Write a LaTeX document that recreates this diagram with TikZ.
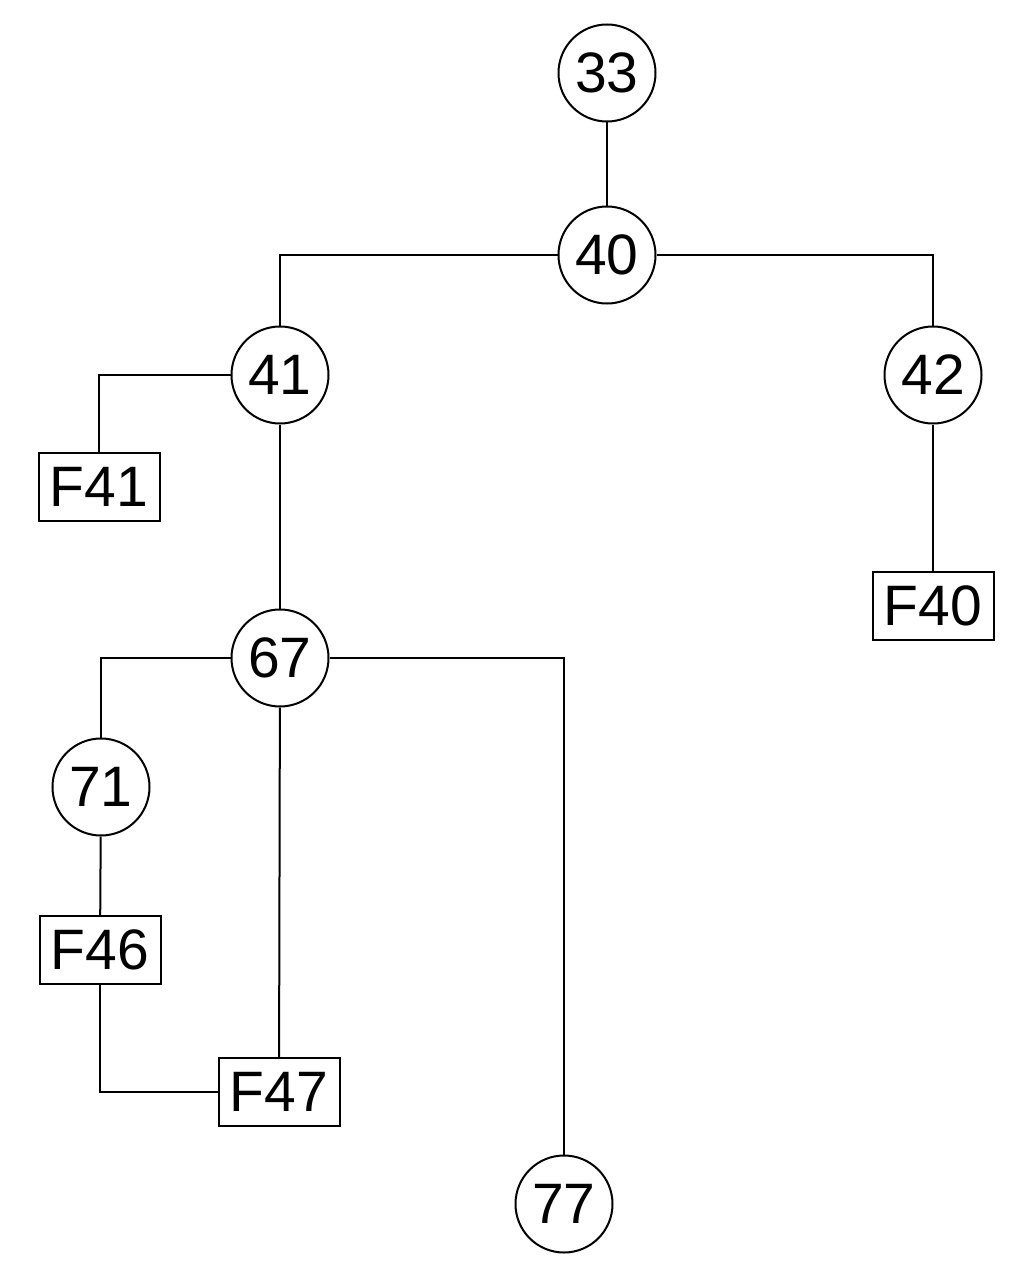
\documentclass[tikz,border=0pt]{standalone}
\usepackage{fontspec}
\setmainfont{Liberation Sans}
\begin{document}
\begin{tikzpicture}[x=1pt,y=-1pt,
  every node/.style={font=\fontsize{57}{60}\selectfont},
  cnode/.style={draw,circle,line width=2pt,minimum size=97pt,inner sep=0pt},
  fbox/.style={draw,rectangle,line width=2pt,minimum width=121pt,minimum height=68pt,inner sep=0pt},
  link/.style={line width=2pt}]
\useasboundingbox (0,0) rectangle (1024,1279);
\node[cnode] (n33) at (607,73) {33};
\node[cnode] (n40) at (607,255) {40};
\node[cnode] (n41) at (280,375) {41};
\node[cnode] (n42) at (933,375) {42};
\node[fbox] (f41) at (99,487) {F41};
\node[fbox] (f40) at (933,606) {F40};
\node[cnode] (n67) at (280,658) {67};
\node[cnode] (n71) at (101,787) {71};
\node[fbox] (f46) at (100,950) {F46};
\node[fbox] (f47) at (279,1092) {F47};
\node[cnode] (n77) at (564,1204) {77};
\draw[link] (n33) -- (n40);
\draw[link] (n40.west) -- (n41 |- n40) -- (n41.north);
\draw[link] (n40.east) -- (n42 |- n40) -- (n42.north);
\draw[link] (n41.west) -- (f41 |- n41) -- (f41.north);
\draw[link] (n41) -- (n67);
\draw[link] (n42) -- (f40);
\draw[link] (n67.west) -- (n71 |- n67) -- (n71.north);
\draw[link] (n67) -- (f47);
\draw[link] (n67.east) -- (n77 |- n67) -- (n77.north);
\draw[link] (n71) -- (f46);
\draw[link] (f46.south) -- (f46 |- f47) -- (f47.west);
\end{tikzpicture}
\end{document}
